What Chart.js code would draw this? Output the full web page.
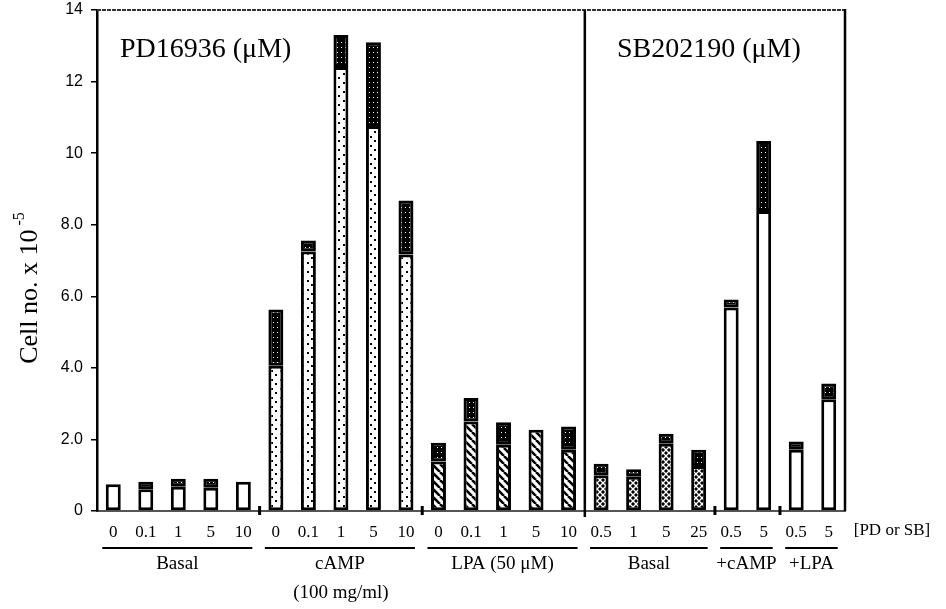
<!DOCTYPE html>
<html>
<head>
<meta charset="utf-8">
<script src="https://cdn.jsdelivr.net/npm/chart.js@4"></script>
<style>
  body { margin: 0; background: #fff; }
  #wrap { width: 946px; height: 609px; }
</style>
</head>
<body>
<div id="wrap"><canvas id="cellChart" width="946" height="609"></canvas></div>
<script>
// dose of PD16936 / SB202190 under each bar
const categories = ['0', '0.1', '1', '5', '10', '0', '0.1', '1', '5', '10', '0', '0.1', '1', '5', '10',
    '0.5', '1', '5', '25', '0.5', '5', '0.5', '5'];
const groupNames = ['Basal', 'cAMP', 'LPA (50 \u03bcM)', 'Basal', '+cAMP', '+LPA'];
const groupSizes = [5, 5, 5, 4, 2, 2];
// lower (patterned) and upper (dark cap) part of each stacked bar, cells x 10^5
const lowerValues = [0.75, 0.61, 0.68, 0.65, 0.82, 4.06, 7.25, 12.41, 10.76, 7.17, 1.38, 2.5, 1.85, 2.27, 1.71,
    1.0, 0.96, 1.88, 1.26, 5.69, 8.38, 1.71, 3.12];
const upperValues = [0, 0.21, 0.22, 0.25, 0, 1.57, 0.31, 0.89, 2.34, 1.51, 0.53, 0.66, 0.63, 0, 0.65,
    0.32, 0.21, 0.28, 0.45, 0.22, 1.96, 0.23, 0.44];
const yTicks = [0, 2, 4, 6, 8, 10, 12, 14];
const yTickLabels = ['0', '2.0', '4.0', '6.0', '8.0', '10', '12', '14'];

const SERIF = "'Liberation Serif', 'Times New Roman', serif";
const SANS = "'Liberation Sans', Arial, sans-serif";

// fill style per group
const groupFill = ['white', 'dots', 'hatch', 'cross', 'white', 'white'];

const makePattern = (kind) => {
    const c = document.createElement('canvas');
    const g = c.getContext('2d');
    if (kind === 'dots') {
        c.width = 9; c.height = 9;
        g.fillStyle = '#fff'; g.fillRect(0, 0, 9, 9);
        g.fillStyle = '#000';
        g.fillRect(1, 1, 2, 2); g.fillRect(5, 5, 2, 2);
    } else if (kind === 'hatch') {
        c.width = 8; c.height = 8;
        g.fillStyle = '#fff'; g.fillRect(0, 0, 8, 8);
        g.strokeStyle = '#000'; g.lineWidth = 2.6;
        [-8, 0, 8].forEach(o => { g.beginPath(); g.moveTo(o, 0); g.lineTo(o + 8, 8); g.stroke(); });
    } else if (kind === 'cross') {
        c.width = 6; c.height = 6;
        g.fillStyle = '#000'; g.fillRect(0, 0, 6, 6);
        g.strokeStyle = '#fff'; g.lineWidth = 1.3;
        [-6, 0, 6].forEach(o => {
            g.beginPath(); g.moveTo(o, 0); g.lineTo(o + 6, 6); g.stroke();
            g.beginPath(); g.moveTo(o + 6, 0); g.lineTo(o, 6); g.stroke();
        });
    } else if (kind === 'cap') {
        c.width = 4; c.height = 5;
        g.fillStyle = '#000'; g.fillRect(0, 0, 4, 5);
        g.fillStyle = '#fff';
        g.fillRect(1, 2, 1, 1);
    } else {
        return '#fff';
    }
    return g.createPattern(c, 'repeat');
};

const lowerFills = [];
groupSizes.forEach((n, gi) => {
    const p = makePattern(groupFill[gi]);
    for (let i = 0; i < n; i++) lowerFills.push(p);
});
const capFill = makePattern('cap');

const annotations = {
    id: 'annotations',
    afterDraw(chart) {
        const { ctx, chartArea: a, scales: { x } } = chart;
        ctx.save();

        // top frame (dithered) and right frame
        ctx.strokeStyle = '#333';
        ctx.lineWidth = 2;
        ctx.setLineDash([4, 1]);
        ctx.beginPath(); ctx.moveTo(a.left, a.top); ctx.lineTo(a.right, a.top); ctx.stroke();
        ctx.setLineDash([]);
        ctx.strokeStyle = '#000';
        ctx.lineWidth = 2.5;
        ctx.beginPath(); ctx.moveTo(a.right, a.top - 1); ctx.lineTo(a.right, a.bottom); ctx.stroke();

        // divider between PD and SB panels
        const xd = x.getPixelForValue(14.5);
        ctx.beginPath(); ctx.moveTo(xd, a.top); ctx.lineTo(xd, a.bottom + 6); ctx.stroke();

        // short marks on the baseline between groups
        ctx.lineWidth = 3;
        [4.5, 9.5, 18.5, 20.5].forEach(v => {
            const px = x.getPixelForValue(v);
            ctx.beginPath(); ctx.moveTo(px, a.bottom - 5); ctx.lineTo(px, a.bottom + 4); ctx.stroke();
        });

        // panel titles
        ctx.fillStyle = '#000';
        ctx.font = '28px ' + SERIF;
        ctx.textAlign = 'left';
        ctx.textBaseline = 'alphabetic';
        ctx.fillText('PD16936 (\u03bcM)', 120, 57);
        ctx.fillText('SB202190 (\u03bcM)', 617, 57);

        // treatment groups under the dose labels
        let start = 0;
        ctx.textAlign = 'center';
        ctx.textBaseline = 'middle';
        groupSizes.forEach((n, gi) => {
            const x0 = x.getPixelForValue(start) - 11;
            const x1 = x.getPixelForValue(start + n - 1) + 9;
            ctx.lineWidth = 2;
            ctx.beginPath(); ctx.moveTo(x0, 548); ctx.lineTo(x1, 548); ctx.stroke();
            ctx.font = '19px ' + SERIF;
            ctx.fillText(groupNames[gi], (x0 + x1) / 2, 564);
            start += n;
        });
        ctx.fillText('(100 mg/ml)', (x.getPixelForValue(5) + x.getPixelForValue(9)) / 2, 593);
        ctx.font = '17px ' + SERIF;
        ctx.fillText('[PD or SB]', 892, 531);

        // y axis title with superscript
        ctx.translate(30, 288);
        ctx.rotate(-Math.PI / 2);
        ctx.font = '26px ' + SERIF;
        const main = 'Cell no. x 10';
        const wMain = ctx.measureText(main).width;
        ctx.font = '16px ' + SERIF;
        const wSup = ctx.measureText(' -5').width;
        const x0 = -(wMain + wSup) / 2;
        ctx.textAlign = 'left';
        ctx.font = '26px ' + SERIF;
        ctx.fillText(main, x0, 0);
        ctx.font = '16px ' + SERIF;
        ctx.fillText(' -5', x0 + wMain, -10);
        ctx.restore();
    }
};

new Chart(document.getElementById('cellChart'), {
    type: 'bar',
    data: {
        labels: categories,
        datasets: [
            {
                label: 'lower',
                data: lowerValues,
                backgroundColor: lowerFills,
                borderColor: '#000',
                borderWidth: 3,
                borderSkipped: false,
            },
            {
                label: 'upper',
                data: upperValues.map(v => (v > 0 ? v : null)),
                backgroundColor: capFill,
                borderColor: '#000',
                borderWidth: 3,
                borderSkipped: false,
            },
        ],
    },
    options: {
        responsive: false,
        animation: false,
        devicePixelRatio: 1,
        layout: { padding: { top: 10, right: 101, left: 0, bottom: 0 } },
        datasets: { bar: { barPercentage: 0.46, categoryPercentage: 1 } },
        plugins: { legend: { display: false }, tooltip: { enabled: false } },
        scales: {
            x: {
                stacked: true,
                grid: { display: false },
                border: { display: true, color: '#555', width: 2, dash: [3, 1] },
                ticks: { color: '#000', font: { family: SERIF, size: 17 }, padding: 3, maxRotation: 0, autoSkip: false },
                afterFit: (s) => { s.height = 98; },
            },
            y: {
                stacked: true,
                min: 0,
                max: 14,
                afterBuildTicks: (s) => { s.ticks = yTicks.map(v => ({ value: v })); },
                grid: { drawOnChartArea: false, color: '#000', lineWidth: 1.5, tickLength: 6 },
                border: { color: '#000', width: 2.5 },
                ticks: {
                    color: '#000',
                    font: { family: SANS, size: 16 },
                    padding: 8,
                    callback: (v) => yTickLabels[yTicks.indexOf(v)],
                },
                afterFit: (s) => { s.width = 97; s.paddingTop = 0; s.paddingBottom = 0; },
            },
        },
    },
    plugins: [annotations],
});
</script>
</body>
</html>
